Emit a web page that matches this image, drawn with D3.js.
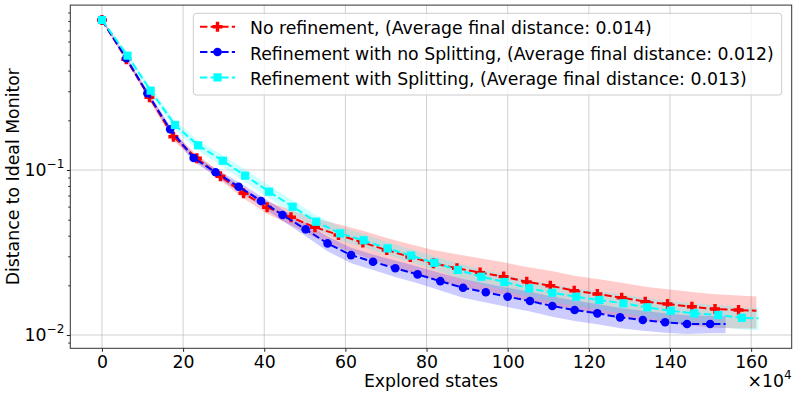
<!DOCTYPE html>
<html>
<head>
<meta charset="utf-8">
<script src="https://cdn.jsdelivr.net/npm/d3@7"></script>
<style>
body { margin: 0; background: #fff; }
text { font-family: "DejaVu Sans", sans-serif; fill: #000; }
</style>
</head>
<body>
<div id="chart"></div>
<script>
// explored states (x 10^4) and mean distance, one set per run type
var xRed = [0, 6.0, 11.7, 17.6, 23.4, 29.2, 34.9, 40.7, 46.6, 52.5, 58.3, 64.3, 70.2, 76.0, 81.7, 87.5, 93.2, 99.0, 104.7, 110.5, 116.4, 122.1, 128.1, 133.9, 139.4, 145.4, 151.1, 156.9, 161.3];
var yRed = [0.811, 0.469, 0.276, 0.159, 0.1178, 0.0916, 0.0722, 0.0594, 0.0517, 0.0450, 0.0404, 0.0364, 0.0327, 0.0297, 0.0272, 0.0254, 0.0239, 0.0226, 0.0210, 0.0199, 0.01856, 0.01772, 0.01683, 0.01592, 0.01541, 0.01484, 0.01438, 0.01417, 0.01404];
var sdRed = [0.01, 0.012, 0.012, 0.008, 0.006, 0.005, 0.005, 0.005, 0.0055, 0.006, 0.0065, 0.0065, 0.006, 0.0058, 0.0055, 0.0055, 0.0053, 0.005, 0.0048, 0.0046, 0.0043, 0.0041, 0.0039, 0.0037, 0.0035, 0.0034, 0.0033, 0.0032, 0.0031];

var xBlue = [0, 6.0, 11.2, 16.8, 22.6, 28.0, 33.7, 39.2, 44.5, 50.2, 55.6, 61.4, 66.8, 72.3, 77.8, 83.4, 89.0, 94.6, 100.0, 105.5, 111.0, 116.5, 122.1, 127.7, 133.3, 138.8, 144.2, 149.9, 153.7];
var yBlue = [0.811, 0.475, 0.2917, 0.1765, 0.1182, 0.0969, 0.0792, 0.0649, 0.0534, 0.0437, 0.0359, 0.0305, 0.0278, 0.0254, 0.0233, 0.0212, 0.01935, 0.01815, 0.01707, 0.01607, 0.01499, 0.01417, 0.01353, 0.0128, 0.01233, 0.01194, 0.01166, 0.01166, 0.01166];
var sdBlue = [0.01, 0.012, 0.012, 0.008, 0.006, 0.005, 0.005, 0.0045, 0.0042, 0.004, 0.0037, 0.0033, 0.003, 0.0029, 0.0027, 0.0026, 0.0025, 0.0024, 0.0023, 0.0022, 0.0021, 0.002, 0.0019, 0.0018, 0.0017, 0.0016, 0.0015, 0.0014, 0.0014];

var xCyan = [0, 6.3, 12.0, 18.0, 23.7, 29.8, 35.3, 41.2, 47.0, 52.8, 58.7, 64.5, 70.4, 76.2, 81.9, 87.7, 93.5, 99.2, 105.3, 111.0, 116.9, 122.6, 128.5, 134.4, 140.2, 146.0, 151.9, 157.7, 161.8];
var yCyan = [0.811, 0.493, 0.3024, 0.1874, 0.1411, 0.1138, 0.0924, 0.0739, 0.0599, 0.0486, 0.0413, 0.0375, 0.0335, 0.0303, 0.0274, 0.0248, 0.02256, 0.02096, 0.01919, 0.01805, 0.01707, 0.0163, 0.01557, 0.01472, 0.01404, 0.01353, 0.01322, 0.01272, 0.01262];
var sdCyan = [0.01, 0.015, 0.015, 0.012, 0.01, 0.009, 0.008, 0.0065, 0.0055, 0.0045, 0.004, 0.0035, 0.003, 0.0028, 0.0026, 0.0025, 0.0024, 0.0023, 0.0022, 0.0022, 0.0021, 0.0021, 0.002, 0.002, 0.002, 0.002, 0.002, 0.0019, 0.0019];

var seriesNames = ["No refinement, (Average final distance: 0.014)",
                   "Refinement with no Splitting, (Average final distance: 0.012)",
                   "Refinement with Splitting, (Average final distance: 0.013)"];
var xTicks = [0, 20, 40, 60, 80, 100, 120, 140, 160];
var yMajor = [0.01, 0.1];
var yMajorExp = ["\u22122", "\u22121"];

var margin = {top: 5.1, right: 5.3, bottom: 46.7, left: 70.3},
    outerWidth = 797,
    outerHeight = 395,
    width = outerWidth - margin.left - margin.right,
    height = outerHeight - margin.top - margin.bottom;

var fs = "17.3px";

var x = d3.scaleLinear().domain([-7.8, 170]).range([0, width]);
var y = d3.scaleLog().domain([0.00831, 0.998]).range([height, 0]);

function pack(xs, ys, sds) {
    return xs.map(function(v, i) { return {x: v, m: ys[i], s: sds[i]}; });
}

var series = [
    {name: seriesNames[0], color: "#ff0000", marker: "plus",   data: pack(xRed, yRed, sdRed)},
    {name: seriesNames[1], color: "#0000ff", marker: "circle", data: pack(xBlue, yBlue, sdBlue)},
    {name: seriesNames[2], color: "#00ffff", marker: "square", data: pack(xCyan, yCyan, sdCyan)}
];

var svg = d3.select("#chart").append("svg")
    .attr("width", outerWidth)
    .attr("height", outerHeight);

var g = svg.append("g")
    .attr("transform", "translate(" + margin.left + "," + margin.top + ")");

g.append("clipPath").attr("id", "clip")
    .append("rect").attr("width", width).attr("height", height);

// grid
g.selectAll(".gx").data(xTicks).enter().append("line")
    .attr("x1", function(d) { return x(d); }).attr("x2", function(d) { return x(d); })
    .attr("y1", 0).attr("y2", height)
    .attr("stroke", "#b0b0b0").attr("stroke-opacity", 0.6).attr("stroke-width", 1);
g.selectAll(".gy").data(yMajor).enter().append("line")
    .attr("x1", 0).attr("x2", width)
    .attr("y1", function(d) { return y(d); }).attr("y2", function(d) { return y(d); })
    .attr("stroke", "#b0b0b0").attr("stroke-opacity", 0.6).attr("stroke-width", 1);

var plot = g.append("g").attr("clip-path", "url(#clip)");

var area = d3.area()
    .x(function(d) { return x(d.x); })
    .y0(function(d) { return y(Math.max(d.m - d.s, 1e-4)); })
    .y1(function(d) { return y(d.m + d.s); });

var line = d3.line()
    .x(function(d) { return x(d.x); })
    .y(function(d) { return y(d.m); });

series.forEach(function(s) {
    plot.append("path").datum(s.data)
        .attr("d", area)
        .attr("fill", s.color).attr("fill-opacity", 0.2);
});

function plusPath(r, t) {
    return "M" + (-t) + "," + (-r) + "H" + t + "V" + (-t) + "H" + r + "V" + t + "H" + t +
           "V" + r + "H" + (-t) + "V" + t + "H" + (-r) + "V" + (-t) + "H" + (-t) + "Z";
}

function drawMarker(sel, kind, color) {
    if (kind === "circle") {
        sel.append("circle").attr("r", 4.3).attr("fill", color);
    } else if (kind === "square") {
        sel.append("rect").attr("x", -4.1).attr("y", -4.1).attr("width", 8.2).attr("height", 8.2).attr("fill", color);
    } else {
        sel.append("path").attr("d", plusPath(5, 1.7)).attr("fill", color);
    }
}

series.forEach(function(s) {
    plot.append("path").datum(s.data)
        .attr("d", line)
        .attr("fill", "none")
        .attr("stroke", s.color).attr("stroke-width", 2)
        .attr("stroke-dasharray", "7.4,3.2");
    var marks = plot.selectAll(null)
        .data(s.data.slice(0, s.data.length - 1))
        .enter().append("g")
        .attr("transform", function(d) { return "translate(" + x(d.x) + "," + y(d.m) + ")"; });
    drawMarker(marks, s.marker, s.color);
});

// axes
var xAxis = d3.axisBottom(x).tickValues(xTicks).tickSize(3.5).tickPadding(4.2);
var gX = g.append("g").attr("transform", "translate(0," + height + ")").call(xAxis);
gX.select(".domain").remove();
gX.selectAll("text").style("font-size", fs).attr("fill", "#000");
gX.selectAll("line").attr("stroke", "#222");

var yMinor = y.ticks().filter(function(d) { return yMajor.indexOf(d) < 0; });
var gYm = g.append("g").call(d3.axisLeft(y).tickValues(yMinor).tickSize(2).tickFormat(""));
gYm.select(".domain").remove();
gYm.selectAll("line").attr("stroke", "#222");
var gY = g.append("g").call(d3.axisLeft(y).tickValues(yMajor).tickSize(3.5).tickFormat(""));
gY.select(".domain").remove();
gY.selectAll("line").attr("stroke", "#222");

yMajor.forEach(function(v, i) {
    var t = g.append("text")
        .attr("x", -6)
        .attr("y", y(v) + 6.2)
        .attr("text-anchor", "end")
        .style("font-size", fs);
    t.append("tspan").text("10");
    t.append("tspan").attr("dy", -8).style("font-size", "12px").text(yMajorExp[i]);
});

g.append("rect")
    .attr("width", width).attr("height", height)
    .attr("fill", "none").attr("stroke", "#333").attr("stroke-width", 1);

g.append("text")
    .attr("x", width / 2).attr("y", height + 38.7)
    .attr("text-anchor", "middle")
    .style("font-size", fs)
    .text("Explored states");

var off = g.append("text")
    .attr("x", width).attr("y", height + 38.7)
    .attr("text-anchor", "end")
    .style("font-size", fs);
off.append("tspan").text("\u00d710");
off.append("tspan").attr("dy", -8).style("font-size", "12px").text("4");

svg.append("text")
    .attr("transform", "translate(19.3," + (margin.top + height / 2) + ") rotate(-90)")
    .attr("text-anchor", "middle")
    .style("font-size", fs)
    .text("Distance to Ideal Monitor");

// legend
var legend = svg.append("g").attr("transform", "translate(193.3,13.3)");
legend.append("rect")
    .attr("width", 588.4).attr("height", 81.7).attr("rx", 3)
    .attr("fill", "#fff").attr("fill-opacity", 0.8)
    .attr("stroke", "#cccccc").attr("stroke-width", 1);

var rows = legend.selectAll(".row").data(series).enter().append("g")
    .attr("transform", function(d, i) { return "translate(0," + (21 + i * 25.35) + ")"; });
rows.append("line")
    .attr("x1", 6.7).attr("x2", 41.7).attr("y1", -7.6).attr("y2", -7.6)
    .attr("stroke", function(d) { return d.color; }).attr("stroke-width", 2)
    .attr("stroke-dasharray", "7.4,3.2");
rows.each(function(d) {
    var m = d3.select(this).append("g").attr("transform", "translate(24.2,-7.6)");
    drawMarker(m, d.marker, d.color);
});
rows.append("text")
    .attr("x", 56.7).attr("y", 0)
    .style("font-size", fs)
    .text(function(d) { return d.name; });
</script>
</body>
</html>
